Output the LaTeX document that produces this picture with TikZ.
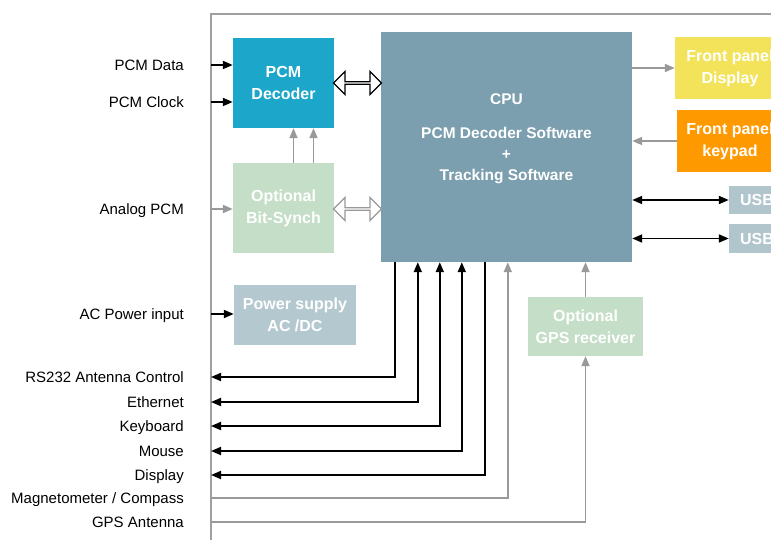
\documentclass[tikz,border=0pt]{standalone}
\usepackage{fontspec}
\setmainfont{Liberation Sans}
\usepackage{tikz}
\usetikzlibrary{arrows.meta,shapes.arrows,positioning}

\definecolor{pcmblue}{HTML}{1CA6C9}
\definecolor{cpugray}{HTML}{7B9FAF}
\definecolor{palegreen}{HTML}{C5DEC7}
\definecolor{panelyellow}{HTML}{F2E35A}
\definecolor{keyorange}{HTML}{FF9900}
\definecolor{usbgray}{HTML}{B1C5CC}
\definecolor{psugray}{HTML}{B4C8CF}
\definecolor{arrowgray}{HTML}{999999}
\definecolor{framegray}{HTML}{A0A0A0}

\tikzset{
	blk/.style={draw=none, text=white, font=\bfseries\fontsize{16}{22}\selectfont, align=center, inner sep=0pt},
	lbl/.style={anchor=base east, font=\fontsize{15}{18}\selectfont, inner sep=0pt, yshift=-5.5pt},
	bus/.style={line width=1.8pt, -{Triangle[length=10pt,width=8pt]}},
	dbus/.style={line width=1.8pt, {Triangle[length=10pt,width=8pt]}-{Triangle[length=10pt,width=8pt]}},
	gbus/.style={bus, draw=arrowgray, color=arrowgray},
	fatlink/.style={double arrow, fill=white, line width=1.3pt, minimum width=23pt, double arrow head extend=5pt, minimum height=48pt, inner sep=0pt}
}

\begin{document}
\begin{tikzpicture}[x=1pt,y=-1pt]
	\clip (0,0) rectangle (771,540);
	\useasboundingbox (0,0) rectangle (771,540);
	% frame
	\coordinate (fr) at (211,14);
	\draw [framegray, line width=1.2pt] (211,540) -- (fr) -- (771,14);
	% blocks
	\node[blk, fill=pcmblue, minimum width=101pt, minimum height=90pt] (pcm) at (283.5,83) {PCM\\Decoder};
	\node[blk, fill=palegreen, minimum width=101pt, minimum height=90pt] (bitsync) at (283.5,208) {Optional\\Bit-Synch};
	\node[blk, fill=cpugray, minimum width=251pt, minimum height=230pt] (cpu) at (506.5,147) {};
	\node[blk, font=\bfseries\fontsize{15.5}{21}\selectfont] (cputext) at (506.5,138.5) {CPU\\[13pt]PCM Decoder Software\\+\\Tracking Software};
	\node[blk, fill=panelyellow, minimum width=110pt, minimum height=62pt] (fpdisp) at (730,68) {Front panel\\Display};
	\node[blk, fill=keyorange, minimum width=106pt, minimum height=62pt] (fpkey) at (730,141) {Front panel\\keypad};
	\node[blk, fill=usbgray, minimum width=56pt, minimum height=28pt] (usba) at (757,200) {USB};
	\node[blk, fill=usbgray, minimum width=56pt, minimum height=28pt] (usbb) at (757,238.5) {USB};
	\node[blk, fill=psugray, minimum width=122pt, minimum height=60pt] (psu) at (295,315) {Power supply\\AC /DC};
	\node[blk, fill=palegreen, minimum width=115pt, minimum height=59pt] (gpsrx) at (585.5,326.5) {Optional\\GPS receiver};
	% left labels
	\node[lbl] (pdata) at (184,65) {PCM Data};
	\node[lbl] (pclock) at (184,102) {PCM Clock};
	\node[lbl] (analog) at (184,209) {Analog PCM};
	\node[lbl] (acin) at (184,314) {AC Power input};
	\node[lbl] (rs) at (184,377) {RS232 Antenna Control};
	\node[lbl] (eth) at (184,402) {Ethernet};
	\node[lbl] (kbd) at (184,426) {Keyboard};
	\node[lbl] (mouse) at (184,451) {Mouse};
	\node[lbl] (disp) at (184,475) {Display};
	\node[lbl] (mag) at (184,498) {Magnetometer / Compass};
	\node[lbl] (gpsant) at (184,522) {GPS Antenna};
	% line levels
	\foreach \n/\y in {pdata/65,pclock/102,analog/209,acin/314,rs/377,eth/402,kbd/426,mouse/451,disp/475,mag/498,gpsant/522}
		\coordinate (\n-in) at (211,\y);
	% inputs
	\draw[bus] (pdata-in) -- (pdata-in -| pcm.west);
	\draw[bus] (pclock-in) -- (pclock-in -| pcm.west);
	\draw[gbus] (analog-in) -- (analog-in -| bitsync.west);
	\draw[bus] (acin-in) -- (acin-in -| psu.west);
	% bit-synch to decoder
	\draw[gbus] ([xshift=10pt]bitsync.north) -- ([xshift=10pt]pcm.south);
	\draw[gbus] ([xshift=30pt]bitsync.north) -- ([xshift=30pt]pcm.south);
	% fat links to cpu
	\node[fatlink, draw=black] (pcmlink) at (357.5,83) {};
	\node[fatlink, draw=arrowgray] (synclink) at (357.5,209) {};
	% right side
	\draw[gbus] (fpdisp.west -| cpu.east) -- (fpdisp.west);
	\draw[gbus] (fpkey.west) -- (fpkey.west -| cpu.east);
	\draw[dbus] (usba.west -| cpu.east) -- (usba.west);
	\draw[dbus] (usbb.west -| cpu.east) -- (usbb.west);
	% bottom buses
	\draw[bus] ([xshift=14pt]cpu.south west) |- (rs-in);
	\draw[dbus] ([xshift=37pt]cpu.south west) |- (eth-in);
	\draw[dbus] ([xshift=59pt]cpu.south west) |- (kbd-in);
	\draw[dbus] ([xshift=81pt]cpu.south west) |- (mouse-in);
	\draw[bus] ([xshift=104pt]cpu.south west) |- (disp-in);
	\draw[gbus] (mag-in) -| ([xshift=127pt]cpu.south west);
	\draw[gbus] (gpsant-in) -| (gpsrx.south);
	\draw[gbus] (gpsrx.north) -- (gpsrx.north |- cpu.south);
\end{tikzpicture}
\end{document}
